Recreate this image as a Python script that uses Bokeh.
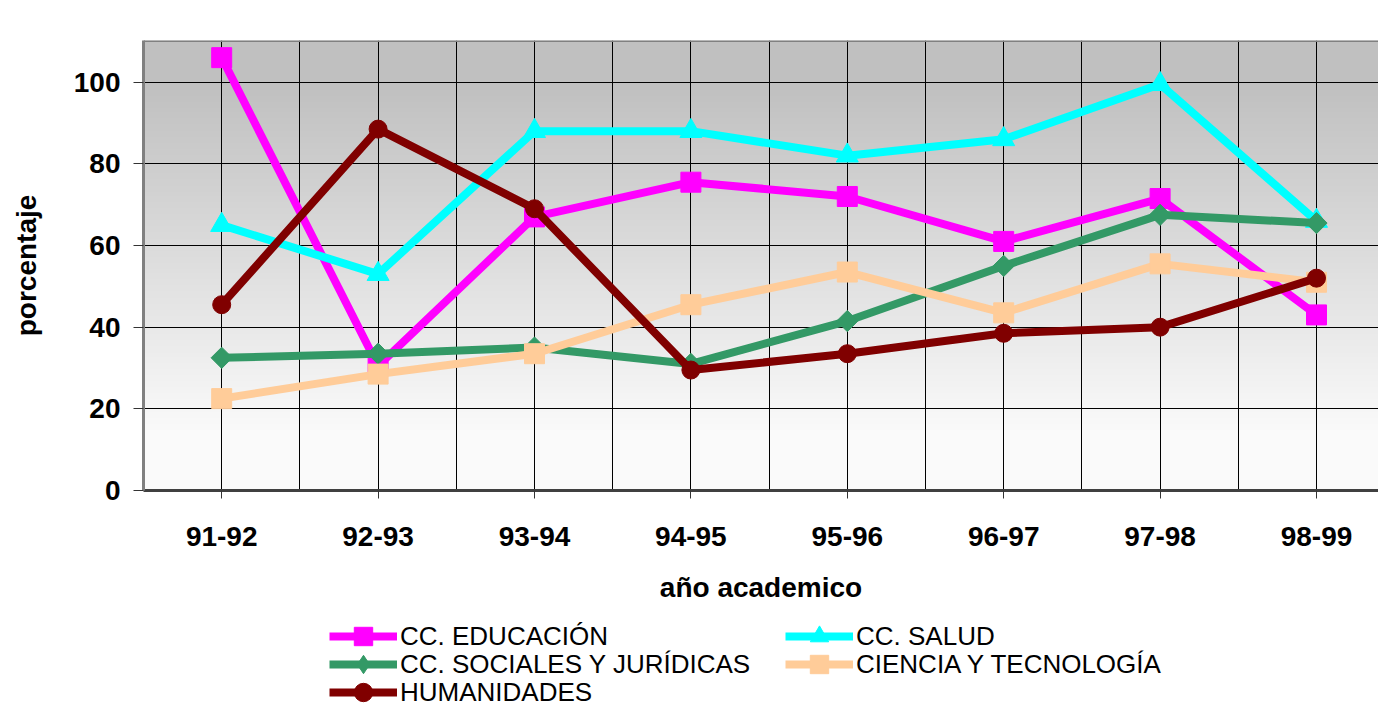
import numpy as np
from bokeh.plotting import figure
from bokeh.layouts import column
from bokeh.models import Range1d, FixedTicker, Legend, LegendItem, Span
from bokeh.embed import file_html
from bokeh.resources import INLINE

# ---- data ----
years = ["91-92", "92-93", "93-94", "94-95", "95-96", "96-97", "97-98", "98-99"]
educacion = [106, 30.5, 67, 75.5, 72, 61, 71.5, 43]
salud = [65, 53, 88, 88, 82, 86, 99.5, 66]
sociales = [32.5, 33.5, 35, 31, 41.5, 55, 67.5, 65.5]
ciencia = [22.5, 28.5, 33.5, 45.5, 53.5, 43.5, 55.5, 51]
humanidades = [45.5, 88.5, 69, 29.5, 33.5, 38.5, 40, 52]
series_names = ["CC. EDUCACIÓN", "CC. SALUD", "CC. SOCIALES Y JURÍDICAS",
                "CIENCIA Y TECNOLOGÍA", "HUMANIDADES"]
y_ticks = [0, 20, 40, 60, 80, 100]

x = list(range(1, len(years) + 1))
FONT = "Liberation Sans"
W = 1378
YMAX = 110.2

p = figure(width=W, height=615, output_backend="svg", toolbar_location=None,
           x_range=Range1d(0.5, 0.5 + (W - 143) / 156.4), y_range=Range1d(0, YMAX),
           min_border_left=143, min_border_right=0, min_border_top=40,
           min_border_bottom=125)
p.background_fill_color = "white"
p.border_fill_color = "white"
p.outline_line_color = None

# background gradient (grey at top -> almost white at bottom)
N = 221
vals = np.linspace(0, YMAX, N)
g = np.where(vals >= 100, 192, np.where(vals <= 15, 250, 250 - (vals - 15) * (58 / 85.0)))
img = np.empty((N, 1), dtype=np.uint32)
view = img.view(dtype=np.uint8).reshape((N, 1, 4))
view[:, 0, 0] = g.astype(np.uint8)
view[:, 0, 1] = g.astype(np.uint8)
view[:, 0, 2] = g.astype(np.uint8)
view[:, 0, 3] = 255
p.image_rgba(image=[img], x=0.5, y=0, dw=8.5, dh=YMAX, level="image")

# grids
p.xgrid.ticker = FixedTicker(ticks=[i / 2 for i in range(2, 18)])
p.ygrid.ticker = FixedTicker(ticks=y_ticks[1:])
p.xgrid.grid_line_color = "black"
p.ygrid.grid_line_color = "black"
p.xgrid.grid_line_width = 1
p.ygrid.grid_line_width = 1

# axes
p.xaxis.ticker = FixedTicker(ticks=x)
p.xaxis.major_label_overrides = {i: y for i, y in zip(x, years)}
p.yaxis.ticker = FixedTicker(ticks=y_ticks)
for ax in (p.xaxis[0], p.yaxis[0]):
    ax.major_label_text_font = FONT
    ax.major_label_text_font_style = "bold"
    ax.major_label_text_font_size = "28px"
    ax.major_label_text_color = "black"
    ax.axis_label_text_font = FONT
    ax.axis_label_text_font_style = "bold"
    ax.axis_label_text_font_size = "28px"
    ax.axis_label_text_color = "black"
    ax.minor_tick_line_color = None
    ax.major_tick_in = 0
    ax.major_tick_line_color = "#333333"
p.xaxis.axis_label = "año academico"
p.yaxis.axis_label = "porcentaje"
p.xaxis.axis_line_color = "#404040"
p.xaxis.axis_line_width = 3
p.yaxis.axis_line_color = "#808080"
p.yaxis.axis_line_width = 3
p.xaxis.major_tick_out = 8
p.yaxis.major_tick_out = 10
p.xaxis.major_label_standoff = 28
p.yaxis.major_label_standoff = 13
p.xaxis.axis_label_standoff = 23
p.yaxis.axis_label_standoff = 29

# top border
p.add_layout(Span(location=YMAX, dimension="width", line_color="#808080", line_width=3))

# series
colors = ["#FF00FF", "#00FFFF", "#339966", "#FFCC99", "#800000"]
markers = ["square", "triangle", "square", "square", "circle"]
legend_markers = ["square", "triangle", "diamond", "square", "circle"]
sizes = [20, 22, 15, 20, 18]
angles = [0, 0, np.pi / 4, 0, 0]
data = [educacion, salud, sociales, ciencia, humanidades]

# legend figure underneath
q = figure(width=W, height=93, output_backend="svg", toolbar_location=None,
           x_axis_type=None, y_axis_type=None, min_border=0,
           x_range=Range1d(0, 1), y_range=Range1d(0, 1))
q.outline_line_color = None
q.background_fill_color = "white"
q.border_fill_color = "white"
q.grid.visible = False

items = []
for name, ys, c, m, lm, s, a in zip(series_names, data, colors, markers,
                                     legend_markers, sizes, angles):
    p.line(x, ys, line_color=c, line_width=8)
    p.scatter(x, ys, marker=m, size=s, angle=a, fill_color=c, line_color=c)
    ln = q.line(x, ys, line_color=c, line_width=8, visible=False)
    sc = q.scatter(x, ys, marker=lm, size=s, fill_color=c,
                   line_color=c, visible=False)
    items.append(LegendItem(label=name, renderers=[ln, sc]))

# legend: three rows of two items (rows 28px apart)
rows = [[0, 1], [2, 3], [4]]
row_offsets = [49, 21, -7]
for r, vy in zip(rows, row_offsets):
    lg = Legend(items=[items[i] for i in r], orientation="horizontal",
                location=(186, vy),
                label_text_font=FONT, label_text_font_size="26px",
                label_text_color="black", glyph_width=68, glyph_height=46,
                label_height=46, label_width=385, label_standoff=3,
                spacing=0, padding=0, margin=0, border_line_color=None,
                background_fill_alpha=0.0)
    q.add_layout(lg, "center")

layout = column(p, q, spacing=0)
open("out.html", "w").write(file_html(layout, INLINE))
